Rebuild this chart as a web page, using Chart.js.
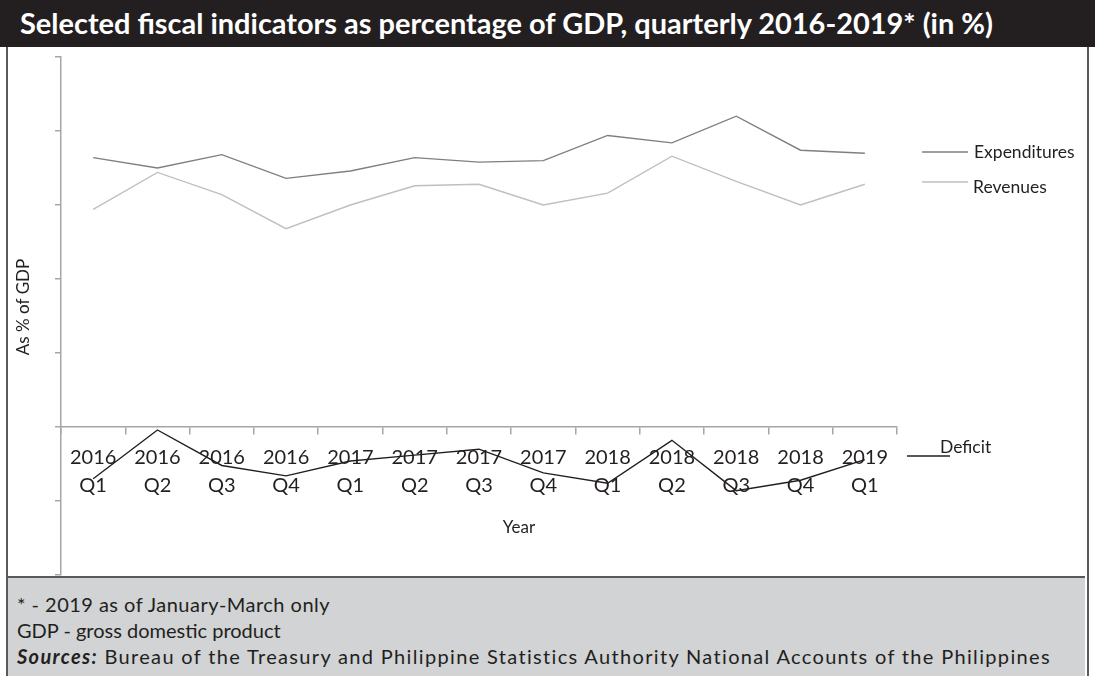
<!DOCTYPE html>
<html>
<head>
<meta charset="utf-8">
<script src="https://cdn.jsdelivr.net/npm/chart.js@4/dist/chart.umd.min.js"></script>
<style>
  html, body { margin: 0; padding: 0; background: #fff; }
  #page { position: relative; width: 1095px; height: 676px; overflow: hidden; font-family: Lato, sans-serif; }
  #title {
    position: absolute; left: 0; top: 0; width: 1095px; height: 47px;
    background: #231f20; color: #fff; font-weight: bold; font-size: 28px; line-height: 47px;
  }
  #title span { position: absolute; left: 20px; white-space: nowrap; transform-origin: 0 50%; }
  #frame {
    position: absolute; left: 6px; top: 47px; width: 1079px; height: 629px;
    border-left: 2px solid #58595b; border-right: 2px solid #58595b;
  }
  #plot { position: absolute; left: 9px; top: 47px; width: 1077px; height: 529px; }
  #notes {
    position: absolute; left: 8px; top: 576px; width: 1077px; height: 100px;
    border-top: 2px solid #58595b; background: #d1d3d4; color: #231f20;
    font-size: 20px; line-height: 26px; padding-top: 13px; box-sizing: border-box;
  }
  #notes div { padding-left: 9px; white-space: nowrap; }
  #notes span { display: inline-block; }
</style>
</head>
<body>
<div id="page">
  <div id="title"><span id="titleText">Selected fiscal indicators as percentage of GDP, quarterly 2016-2019* (in %)</span></div>
  <div id="frame"></div>
  <div id="plot"><canvas id="myChart"></canvas></div>
  <div id="notes">
    <div><span data-w="313">* - 2019 as of January-March only</span></div>
    <div><span data-w="251">GDP - gross domestic product</span></div>
    <div><span data-w="1035"><b><i>Sources:</i></b> Bureau of the Treasury and Philippine Statistics Authority National Accounts of the Philippines</span></div>
  </div>
</div>
<script>
// quarters on the x axis
const quarters = [
  ['2016', 'Q1'], ['2016', 'Q2'], ['2016', 'Q3'], ['2016', 'Q4'],
  ['2017', 'Q1'], ['2017', 'Q2'], ['2017', 'Q3'], ['2017', 'Q4'],
  ['2018', 'Q1'], ['2018', 'Q2'], ['2018', 'Q3'], ['2018', 'Q4'],
  ['2019', 'Q1'],
];

// % of GDP
const expenditures = [18.2, 17.5, 18.4, 16.8, 17.3, 18.2, 17.9, 18.0, 19.7, 19.2, 21.0, 18.7, 18.5];
const revenues = [14.7, 17.2, 15.7, 13.4, 15.0, 16.3, 16.4, 15.0, 15.8, 18.3, 16.6, 15.0, 16.4];
const deficit = [-3.5, -0.2, -2.6, -3.3, -2.3, -1.9, -1.5, -3.1, -3.8, -0.9, -4.3, -3.6, -2.2];

const yMin = -10;
const yMax = 25;
const yStep = 5;

// squeeze the heading onto one line across the bar
const titleText = document.getElementById('titleText');
titleText.style.transform = 'scaleX(' + (973 / titleText.getBoundingClientRect().width) + ')';

// spread the footnote lines out to their set widths
document.querySelectorAll('#notes span').forEach((el) => {
  const target = +el.dataset.w;
  const chars = el.textContent.length;
  const extra = target - el.getBoundingClientRect().width;
  if (extra > 0) el.style.letterSpacing = (extra / chars) + 'px';
});

Chart.defaults.font.family = 'Lato, sans-serif';
Chart.defaults.color = '#231f20';

const axisGrey = '#a6a6a6';

// series names drawn next to the plot, excel style
const seriesLabels = {
  id: 'seriesLabels',
  afterDraw(chart, args, opts) {
    const ctx = chart.ctx;
    ctx.save();
    ctx.font = '17.5px Lato, sans-serif';
    ctx.textBaseline = 'middle';
    ctx.textAlign = 'left';
    opts.items.forEach((item, i) => {
      const ds = chart.data.datasets[i];
      ctx.strokeStyle = ds.borderColor;
      ctx.lineWidth = 1.5;
      ctx.beginPath();
      ctx.moveTo(item.x1, item.lineY);
      ctx.lineTo(item.x2, item.lineY);
      ctx.stroke();
      ctx.fillStyle = '#231f20';
      ctx.fillText(ds.label, item.textX, item.textY);
    });
    // x axis title, sits a little right of centre
    const area = chart.chartArea;
    ctx.textAlign = 'center';
    ctx.font = '17px Lato, sans-serif';
    ctx.fillText('Year', (area.left + area.right) / 2 + 40, 481);
    // y axis title
    ctx.translate(15, 260);
    ctx.rotate(-Math.PI / 2);
    ctx.fillText('As % of GDP', 0, 0);
    ctx.restore();
  }
};

const data = {
  labels: quarters,
  datasets: [
    { label: 'Expenditures', data: expenditures, borderColor: '#7f7f7f', borderWidth: 1.4, pointRadius: 0, tension: 0 },
    { label: 'Revenues', data: revenues, borderColor: '#bfbfbf', borderWidth: 1.4, pointRadius: 0, tension: 0 },
    { label: 'Deficit', data: deficit, borderColor: '#231f20', borderWidth: 1.4, pointRadius: 0, tension: 0 },
  ]
};

const config = {
  type: 'line',
  data,
  options: {
    responsive: true,
    maintainAspectRatio: false,
    animation: false,
    layout: { padding: { top: 10, right: 189, bottom: 1, left: 0 } },
    plugins: {
      legend: { display: false },
      tooltip: { enabled: false },
      seriesLabels: {
        items: [
          { x1: 913, x2: 959, lineY: 105, textX: 965, textY: 105 },
          { x1: 913, x2: 959, lineY: 135, textX: 964, textY: 140 },
          { x1: 898, x2: 941, lineY: 409, textX: 931, textY: 400 },
        ]
      }
    },
    scales: {
      x: {
        type: 'category',
        position: { y: 0 },
        offset: true,
        afterFit: (scale) => { scale.height = 0; },
        grid: { offset: true, drawOnChartArea: false, tickLength: 7, color: axisGrey, lineWidth: 1.5 },
        border: { color: axisGrey, width: 1.5 },
        ticks: {
          autoSkip: false, maxRotation: 0, padding: 10,
          font: { size: 20, lineHeight: 1.4 }, color: '#231f20'
        }
      },
      y: {
        min: yMin,
        max: yMax,
        afterFit: (scale) => { scale.width = 52; },
        ticks: { stepSize: yStep, display: false },
        grid: { drawOnChartArea: false, tickLength: 6, color: axisGrey, lineWidth: 1.5 },
        border: { color: axisGrey, width: 1.5 }
      }
    }
  },
  plugins: [seriesLabels]
};

var myChart = new Chart(
  document.getElementById('myChart'),
  config
);
</script>
</body>
</html>
